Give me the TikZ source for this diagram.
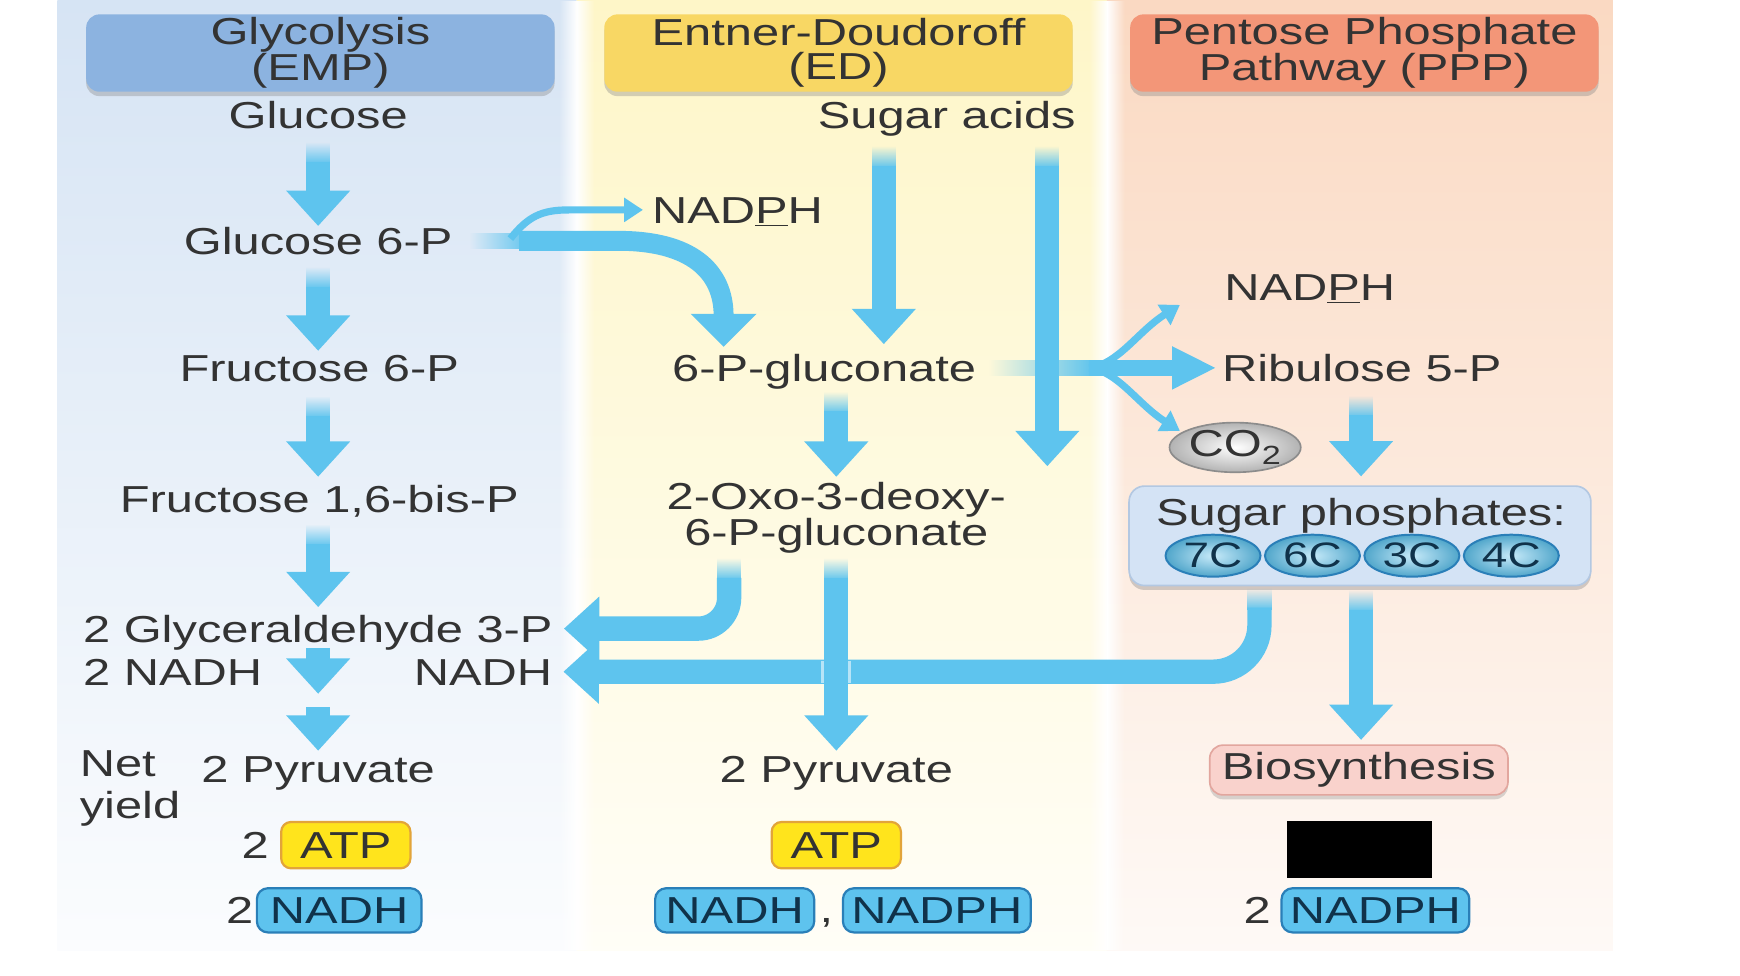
\documentclass[tikz,border=0pt]{standalone}
\usepackage{fontspec}
\setmainfont{Liberation Sans}[FakeStretch=1.3]
\usetikzlibrary{arrows.meta,shadows,fadings,shapes.geometric}

\definecolor{bgblue}{HTML}{D6E4F4}
\definecolor{bgyel}{HTML}{FEF6C8}
\definecolor{bgpeach}{HTML}{FAD9C2}
\definecolor{hblue}{HTML}{8CB3E0}
\definecolor{hyel}{HTML}{F8D764}
\definecolor{hpeach}{HTML}{F39678}
\definecolor{arr}{HTML}{5EC4EE}
\definecolor{tx}{HTML}{333333}
\definecolor{atpf}{HTML}{FFE41C}
\definecolor{atpd}{HTML}{E2A43A}
\definecolor{nadf}{HTML}{5EC3EE}
\definecolor{nadd}{HTML}{2A7FB8}
\definecolor{nadt}{HTML}{10324A}
\definecolor{spf}{HTML}{D4E3F5}
\definecolor{spd}{HTML}{B3C8E2}
\definecolor{biof}{HTML}{F9D2CC}
\definecolor{biod}{HTML}{E2A69E}

\tikzfading[name=fadeleft, left color=transparent!100, right color=transparent!0]
\tikzfading[name=fadetop, top color=transparent!100, bottom color=transparent!0]
\tikzfading[name=midgap, left color=transparent!100, right color=transparent!100, middle color=transparent!0]

\newcommand\fz{\fontsize{34}{31}\selectfont}
\newcommand\fs{\fontsize{32}{30}\selectfont}
\newcommand\fd[2][20]{\fill[arr, path fading=fadetop, shift={#2}] (-11,0) rectangle (11,#1);}

\tikzset{
 lbl/.style={inner sep=0pt, text height=24.5pt, text depth=0pt, text=tx, font=\fz},
 hdr/.style={rounded corners=12pt, minimum width=424pt, minimum height=70pt, align=center, font=\fz, text=tx, inner sep=0pt, drop shadow={shadow xshift=0pt, shadow yshift=-4pt, opacity=0.35}},
 fat/.style={draw=arr, line width=22pt, -{Triangle[width=56pt,length=32pt]}},
 thinarr/.style={draw=arr, line width=6.5pt, -{Triangle[width=21pt,length=17pt]}},
 atp/.style={fill=atpf, draw=atpd, line width=2pt, rounded corners=9pt, minimum width=117pt, minimum height=42pt, inner sep=0pt, font=\fz, text=tx},
 nad/.style={fill=nadf, draw=nadd, line width=2pt, rounded corners=10pt, minimum height=40pt, inner sep=0pt, font=\fz, text=nadt},
 cc/.style={ellipse, minimum width=86pt, minimum height=38pt, inner sep=0pt, draw=nadd, line width=1.8pt, inner color=nadf!35!white, outer color=nadf!85!black, font=\fs, text=nadt},
}

\begin{document}
\begin{tikzpicture}[x=1pt,y=-1pt]
\useasboundingbox (0,0) rectangle (1575,883);
\fill[white] (0,0) rectangle (1575,883);
% panels
\shade[top color=bgblue, bottom color=bgblue!10!white] (52,0) rectangle (522,860);
\shade[top color=bgyel, bottom color=bgyel!15!white] (522,0) rectangle (1002,860);
\shade[top color=bgpeach, bottom color=bgpeach!15!white] (1002,0) rectangle (1460,860);
\fill[white, path fading=midgap] (506,0) rectangle (538,860);
\fill[white, path fading=midgap] (986,0) rectangle (1018,860);

% headers
\node[hdr, fill=hblue] (emp) at (290,48) {Glycolysis\\(EMP)};
\node[hdr, fill=hyel] (ed) at (759,48) {Entner-Doudoroff\\(ED)};
\node[hdr, fill=hpeach] (ppp) at (1235,48) {Pentose Phosphate\\Pathway (PPP)};

% EMP column
\node[lbl] (glc) at (288,104) {Glucose};
\node[lbl] (g6p) at (288,218) {Glucose 6-P};
\node[lbl] (f6p) at (289,333) {Fructose 6-P};
\node[lbl] (fbp) at (289,452) {Fructose 1,6-bis-P};
\node[lbl, anchor=west] (g3p) at (75,569) {2 Glyceraldehyde 3-P};
\node[lbl, anchor=west] (nadh1) at (75,608) {2 NADH};
\node[lbl, anchor=east] (nadh2) at (500,608) {NADH};
\node[lbl] (pyr1) at (288,696) {2 Pyruvate};
\node[lbl, anchor=west] (net) at (72,691) {Net};
\node[lbl, anchor=west] (yld) at (72,729) {yield};
\node[lbl] (two1) at (231,765) {2};
\node[atp] (atp1) at (313,765) {ATP};
\node[lbl] (two2) at (217,824) {2};
\node[nad, minimum width=149pt] (nadb1) at (307,824) {NADH};

% ED column
\node[lbl] (sa) at (857,104) {Sugar acids};
\node[lbl, anchor=west] (np1) at (590,190) {NAD\underline{P}H};
\node[lbl] (pg) at (746,333) {6-P-gluconate};
\node[inner sep=0pt, align=center, font=\fz, text=tx] (kdpg) at (757,469) {2-Oxo-3-deoxy-\\6-P-gluconate};
\node[lbl] (pyr2) at (757,696) {2 Pyruvate};
\node[atp] (atp2) at (757,765) {ATP};
\node[nad, minimum width=144pt] (nadb2) at (665,824) {NADH};
\node[lbl, anchor=base] (comma) at (748,835) {,};
\node[nad, minimum width=170pt] (nadpb2) at (848,824) {NADPH};

% PPP column
\node[lbl, anchor=west] (np2) at (1108,260) {NAD\underline{P}H};
\node[lbl, anchor=west] (ru5p) at (1106,333) {Ribulose 5-P};
\node[ellipse, minimum width=110pt, minimum height=40pt, inner sep=0pt, draw=black!45, line width=1.5pt, inner color=white, outer color=black!30, font=\fz, text=tx] (co2) at (1118,405) {CO\textsubscript{2}};
\node[fill=spf, draw=spd, line width=1.5pt, rounded corners=14pt, minimum width=418pt, minimum height=90pt, drop shadow={shadow xshift=0pt, shadow yshift=-4pt, opacity=0.35}] (sp) at (1231,485) {};
\node[lbl] (spt) at (1232,463) {Sugar phosphates:};
\node[cc] (c7) at (1098,503) {7C};
\node[cc] (c6) at (1188,503) {6C};
\node[cc] (c3) at (1278,503) {3C};
\node[cc] (c4) at (1368,503) {4C};
\node[fill=biof, draw=biod, line width=1.5pt, rounded corners=12pt, minimum width=270pt, minimum height=45pt, inner sep=0pt, font=\fz, text=tx, drop shadow={shadow xshift=0pt, shadow yshift=-4pt, opacity=0.3}] (bio) at (1230,697) {Biosynthesis};
\node[fill=black, minimum width=131pt, minimum height=52pt, inner sep=0pt] (blk) at (1230.5,769) {};
\node[lbl] (two3) at (1138,824) {2};
\node[nad, minimum width=170pt] (nadpb3) at (1245,824) {NADPH};

% coordinates
\coordinate (m1) at (288,628);
\coordinate (m2) at (288,640);
\coordinate (sa1) at (800,132);
\coordinate (sa2) at (948,132);
\coordinate (sa2e) at (948,422);
\coordinate (k1) at (660,505);
\coordinate (k2) at (757,505);
\coordinate (s1) at (1140,532);
\coordinate (gj) at (470,218);
\coordinate (gb) at (462,216);
\coordinate (gt) at (655,314);
\coordinate (jn) at (986,333);
\coordinate (r1) at (1232,358);
\coordinate (upt) at (1068,276);
\coordinate (dnt) at (1068,390);

% EMP arrows
\fd{([yshift=-12pt]glc.south)}
\draw[fat, shorten <=30pt, shorten >=1pt] (glc.south) -- (glc.south |- g6p.north);
\fd{([yshift=-11pt]g6p.south)}
\draw[fat, shorten <=29pt, shorten >=3pt] (g6p.south) -- (g6p.south |- f6p.north);
\fd{([yshift=-13pt]f6p.south -| m1)}
\draw[fat, shorten <=31pt, shorten >=8pt] (f6p.south -| m1) -- (m1 |- fbp.north);
\fd{([yshift=-10pt]fbp.south -| m1)}
\draw[fat, shorten <=28pt, shorten >=7pt] (fbp.south -| m1) -- (m1 |- g3p.north);
\draw[fat, shorten <=5pt] (g3p.south -| m1) -- (m1);
\draw[fat, shorten >=4pt] (m2) -- (m2 |- pyr1.north);

% G6P branches
\fill[arr, path fading=fadeleft] (425,211) rectangle (480,225);
\draw[draw=arr, line width=18pt, -{Triangle[width=58pt,length=30pt]}] (gj) -- (560,218) .. controls (625,218) and (655,245) .. (gt);
\draw[thinarr, shorten >=8pt] (gb) .. controls (478,196) and (490,190) .. (515,190) -- (np1.west);

% ED arrows
\fd{(sa1)}
\draw[fat, shorten <=18pt, shorten >=9pt] (sa1) -- (sa1 |- pg.north);
\fill[arr, path fading=fadeleft] (895,326) rectangle (990,340);
\fd{(sa2)}
\draw[fat, shorten <=18pt] (sa2) -- (sa2e);
\fd{([yshift=-9pt]pg.south -| k2)}
\draw[fat, shorten <=27pt, shorten >=5pt] (pg.south -| k2) -- (k2 |- kdpg.north);
\fd{(k1)}
\draw[fat, rounded corners=28pt, shorten <=18pt, shorten >=10pt] (k1) -- (k1 |- g3p.east) -- (g3p.east);
\fd{(s1)}
\draw[fat, rounded corners=42pt, shorten <=18pt, shorten >=10pt] (s1) -- (s1 |- nadh2.east) -- (nadh2.east);
\draw[line width=27pt, arr!45!white] (757,598) -- (757,618);
\fd{(k2)}
\draw[fat, shorten <=18pt, shorten >=4pt] (k2) -- (k2 |- pyr2.north);

% PPP arrows
\draw[draw=arr, line width=15pt, -{Triangle[width=36pt,length=40pt]}, shorten >=5pt] (jn) -- (ru5p.west);
\draw[thinarr] (jn) .. controls (1012,330) and (1030,300) .. (upt);
\draw[thinarr] (jn) .. controls (1012,336) and (1030,366) .. (dnt);
\fd{(r1)}
\draw[fat, shorten <=18pt, shorten >=8pt] (r1) -- (r1 |- sp.north);
\fd{([yshift=-3pt]sp.south -| r1)}
\draw[fat, shorten <=21pt, shorten >=4pt] (sp.south -| r1) -- (r1 |- bio.north);
\end{tikzpicture}
\end{document}
